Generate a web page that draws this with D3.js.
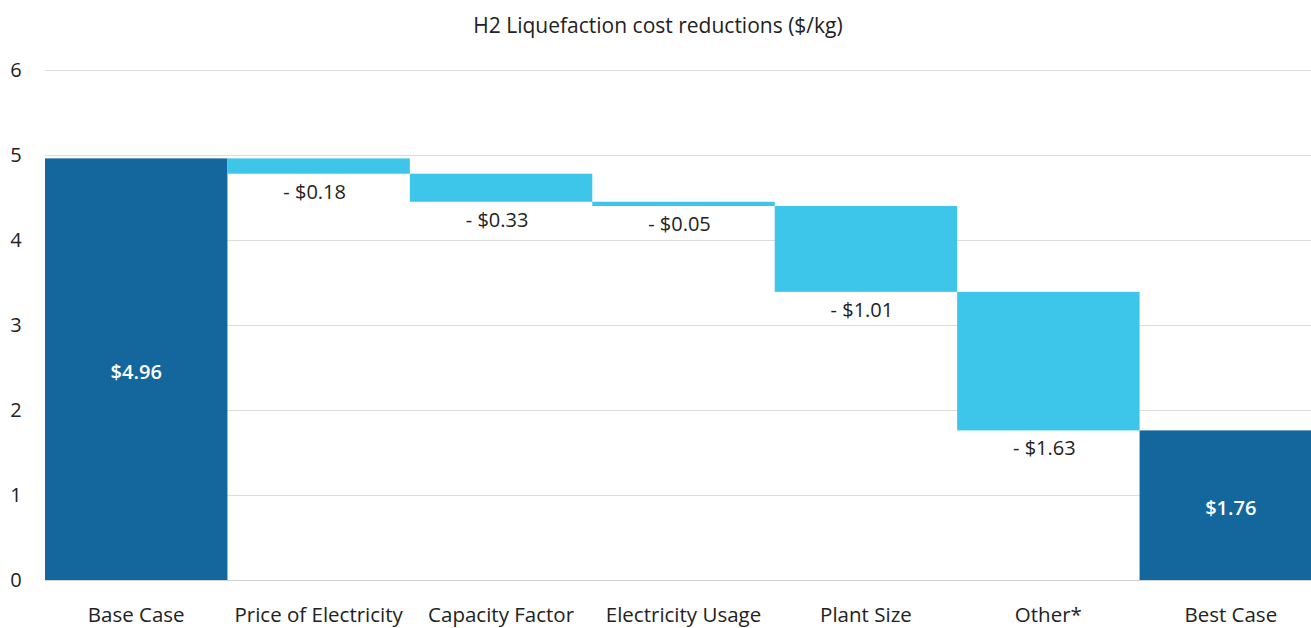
<!DOCTYPE html>
<html><head><meta charset="utf-8">
<script src="https://cdn.jsdelivr.net/npm/d3@7"></script>
<style>body{margin:0;background:#fff;overflow:hidden}svg{display:block;font-family:"Open Sans","Noto Sans",sans-serif}</style>
</head><body><svg id="c" width="1311" height="628"></svg>
<script>
const categories = ["Base Case","Price of Electricity","Capacity Factor","Electricity Usage","Plant Size","Other*","Best Case"];
const values = [4.96, -0.18, -0.33, -0.05, -1.01, -1.63, 1.76];
const kinds = ["total","delta","delta","delta","delta","delta","total"];
const labels = ["$4.96","- $0.18","- $0.33","- $0.05","- $1.01","- $1.63","$1.76"];
const yTicks = [0,1,2,3,4,5,6];
const title = "H2 Liquefaction cost reductions ($/kg)";

const svg = d3.select("#c");
const m = {left:45, right:1322, top:70, bottom:580};
const x = d3.scaleBand().domain(categories).range([m.left, m.right]).padding(0);
const y = d3.scaleLinear().domain([0,6]).range([m.bottom, m.top]);

let run = 0;
const bars = categories.map((c,i)=>{
  let y0,y1;
  if(kinds[i]==="total"){ y0=0; y1=values[i]; run=values[i]; }
  else { y1=run; y0=run+values[i]; run=y0; }
  return {c, y0, y1, kind:kinds[i], label:labels[i]};
});

svg.append("g").selectAll("line").data(yTicks).join("line")
  .attr("x1",m.left).attr("x2",1311)
  .attr("y1",d=>Math.round(y(d))+0.5).attr("y2",d=>Math.round(y(d))+0.5)
  .attr("stroke",d=>d===0?"#d0d0d0":"#dcdcdc").attr("stroke-width",1);

const yAxis = d3.axisLeft(y).tickValues(yTicks).tickFormat(d3.format("d")).tickSize(0).tickPadding(0);
const ga = svg.append("g").attr("transform","translate(16,0)").call(yAxis);
ga.select(".domain").remove();
ga.selectAll("text").attr("text-anchor","middle").attr("font-size",20).attr("fill","#222")
  .attr("font-family","'Open Sans','Noto Sans',sans-serif");

svg.append("g").selectAll("rect").data(bars).join("rect")
  .attr("x",d=>x(d.c)).attr("width",x.bandwidth())
  .attr("y",d=>y(d.y1)).attr("height",d=>y(d.y0)-y(d.y1))
  .attr("fill",d=>d.kind==="total"?"#13679d":"#3dc5ea");

svg.append("g").selectAll("text").data(bars).join("text")
  .attr("x",d=>x(d.c)+x.bandwidth()/2 - (d.kind==="total"?0:4))
  .attr("y",d=>d.kind==="total" ? y((d.y0+d.y1)/2)+10 : y(d.y0)+25)
  .attr("text-anchor","middle")
  .attr("font-size",20)
  .attr("font-weight",d=>d.kind==="total"?600:"normal")
  .attr("fill",d=>d.kind==="total"?"#fff":"#222")
  .text(d=>d.label);

const xAxis = d3.axisBottom(x).tickSize(0).tickPadding(0);
const gx = svg.append("g").attr("transform","translate(0,607)").call(xAxis);
gx.select(".domain").remove();
gx.selectAll("text").attr("font-size",20.5).attr("fill","#222")
  .attr("font-family","'Open Sans','Noto Sans',sans-serif");

svg.append("text").attr("x",658).attr("y",33).attr("text-anchor","middle")
  .attr("font-size",21).attr("fill","#222").text(title);
</script></body></html>
